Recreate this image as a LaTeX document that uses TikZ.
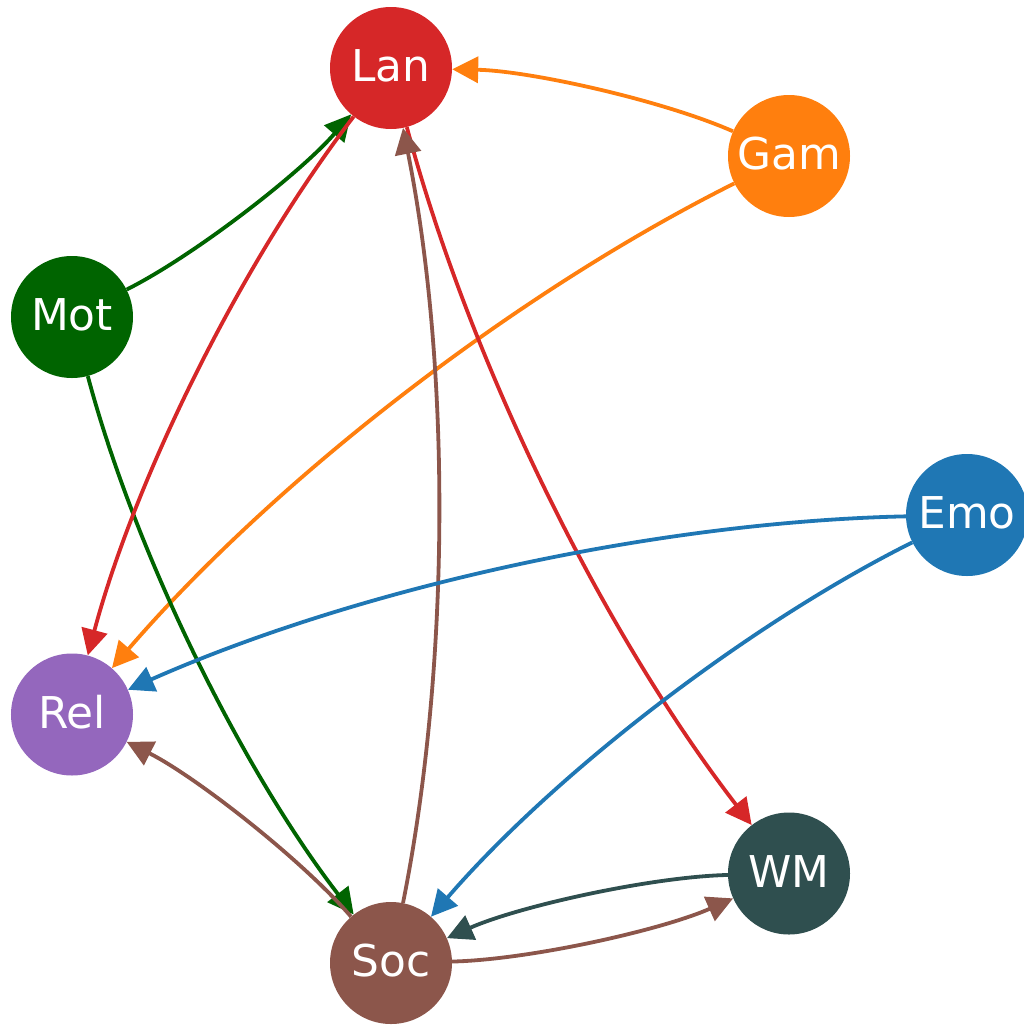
\documentclass[tikz,border=0pt]{standalone}
\usepackage{fontspec}
\setmainfont{DejaVu Sans}
\usetikzlibrary{arrows.meta,calc}
\definecolor{cLan}{HTML}{D62728}
\definecolor{cGam}{HTML}{FF7F0E}
\definecolor{cMot}{HTML}{006400}
\definecolor{cEmo}{HTML}{1F77B4}
\definecolor{cRel}{HTML}{9467BD}
\definecolor{cWM}{HTML}{2F4F4F}
\definecolor{cSoc}{HTML}{8C564B}
\newcommand\arcedge[3]{\draw[linkline,#3] (#1) .. controls ($(#1)!0.34!-11.31:(#2)$) and ($(#2)!0.34!11.31:(#1)$) .. (#2);}
\begin{document}
\begin{tikzpicture}[x=1bp,y=1bp,
  vert/.style={circle,fill=#1,draw=none,minimum size=122bp,inner sep=0pt,text=white,
    font=\fontsize{44}{50}\selectfont,text height=27bp,text depth=0bp},
  linkline/.style={line width=3.8bp,-{Triangle[length=26bp,width=26bp]}}]
\useasboundingbox (0,0) rectangle (1024,-1025);
\begin{scope}
\clip (0,0) rectangle (1024,-1025);
\node[vert=cLan] (Lan) at (391,-68) {Lan};
\node[vert=cGam] (Gam) at (789,-156) {Gam};
\node[vert=cMot] (Mot) at (72,-317) {Mot};
\node[vert=cEmo] (Emo) at (967,-515) {Emo};
\node[vert=cRel] (Rel) at (72,-714.5) {Rel};
\node[vert=cWM] (WM) at (789,-873.5) {WM};
\node[vert=cSoc] (Soc) at (391,-963) {Soc};
\arcedge{Gam}{Lan}{cGam}
\arcedge{Gam}{Rel}{cGam}
\arcedge{Mot}{Lan}{cMot}
\arcedge{Mot}{Soc}{cMot}
\arcedge{Lan}{Rel}{cLan}
\arcedge{Lan}{WM}{cLan}
\arcedge{Soc}{Lan}{cSoc}
\arcedge{Soc}{Rel}{cSoc}
\arcedge{Soc}{WM}{cSoc}
\arcedge{WM}{Soc}{cWM}
\arcedge{Emo}{Rel}{cEmo}
\arcedge{Emo}{Soc}{cEmo}
\end{scope}
\end{tikzpicture}
\end{document}
